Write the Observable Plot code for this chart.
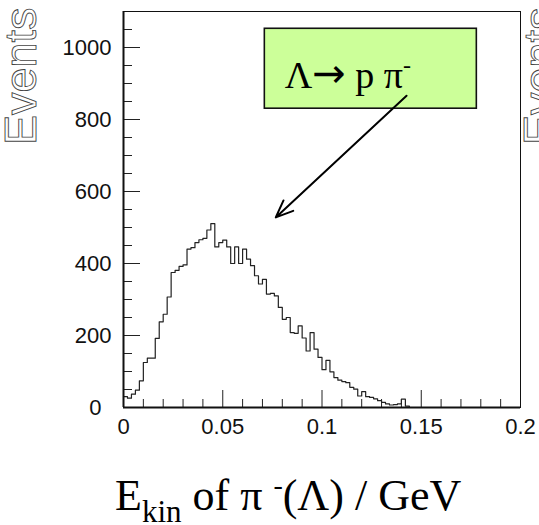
<!DOCTYPE html>
<html><head><meta charset="utf-8">
<script src="https://cdn.jsdelivr.net/npm/d3@7"></script>
<script src="https://cdn.jsdelivr.net/npm/@observablehq/plot@0.6"></script>
<style>
html,body{margin:0;padding:0;background:#fff;}
svg{display:block;}
</style>
</head><body>
<div id="chart"></div>
<script>
// Histogram: bin width 0.002 GeV, counts
const binWidth = 0.002;
const counts = [30,26,37,48,74,125,137,137,192,238,259,307,375,381,392,396,440,444,458,466,470,493,511,446,458,465,446,400,446,400,440,412,394,366,343,356,315,317,310,278,245,250,208,206,227,193,157,208,162,139,105,131,99,83,76,72,69,56,51,32,44,30,28,24,19,14,10,7,8,10,23,4];
const xMajorTicks = [0, 0.05, 0.1, 0.15, 0.2];
const xTickLabels = ["0", "0.05", "0.1", "0.15", "0.2"];
const xMinorTicks = [0.01,0.02,0.03,0.04,0.06,0.07,0.08,0.09,0.11,0.12,0.13,0.14,0.16,0.17,0.18,0.19];
const yMajorTicks = [0, 200, 400, 600, 800, 1000];
const yTickLabels = ["0", "200", "400", "600", "800", "1000"];
const yMinorTicks = [50,100,150,250,300,350,450,500,550,650,700,750,850,900,950,1050];
// annotation (data units)
const boxX = [0.0712, 0.178];
const boxY = [830, 1052];
const arrowFrom = [0.1426, 866];
const arrowTo = [0.0767, 528];
const labelPos = [0.0815, 885];

const xLabelMap = new Map(xMajorTicks.map((d, i) => [d, xTickLabels[i]]));
const yLabelMap = new Map(yMajorTicks.map((d, i) => [d, yTickLabels[i]]));

const steps = counts.map((c, i) => ({x: i * binWidth, y: c}));
steps.push({x: counts.length * binWidth, y: 0});
steps.push({x: 0.2, y: 0});

const tickFont = {fontSize: 22, letterSpacing: 2};

const plot = Plot.plot({
  width: 539, height: 525,
  marginLeft: 123, marginRight: 19, marginTop: 11, marginBottom: 118,
  x: {domain: [0, 0.2]},
  y: {domain: [0, 1100]},
  style: {fontFamily: "'Liberation Sans', Arial, sans-serif", background: "white", color: "#111", overflow: "hidden"},
  marks: [
    Plot.rect([{}], {x1: boxX[0], x2: boxX[1], y1: boxY[0], y2: boxY[1], fill: "#ccff99", stroke: "#111", strokeWidth: 1.6}),
    Plot.lineY(steps, {x: "x", y: "y", curve: "step-after", stroke: "#222", strokeWidth: 1.2}),
    Plot.arrow([{}], {x1: arrowFrom[0], y1: arrowFrom[1], x2: arrowTo[0], y2: arrowTo[1], stroke: "#000", strokeWidth: 2, headLength: 14, headAngle: 45}),
    Plot.axisX({ticks: xMinorTicks, tickSize: -8, fill: "none", label: null, stroke: "#222"}),
    Plot.axisX({ticks: xMajorTicks, tickSize: -17, fill: "none", label: null, stroke: "#222"}),
    Plot.axisX({ticks: xMajorTicks, tickSize: 0, tickPadding: 11, ...tickFont, label: null, tickFormat: d => xLabelMap.get(d)}),
    Plot.axisY({ticks: yMinorTicks, tickSize: -9, fill: "none", label: null, stroke: "#222"}),
    Plot.axisY({ticks: yMajorTicks, tickSize: -17, fill: "none", label: null, stroke: "#222"}),
    Plot.axisY({ticks: yMajorTicks.filter(d => d !== 0), tickSize: 0, tickPadding: 12, ...tickFont, label: null, tickFormat: d => yLabelMap.get(d)}),
    Plot.axisY({ticks: [0], tickSize: 0, tickPadding: 22, ...tickFont, label: null, tickFormat: d => yLabelMap.get(d)}),
    Plot.frame({stroke: "#111", strokeWidth: 1}),
    Plot.ruleX([0], {stroke: "#111", strokeWidth: 2}),
    Plot.ruleY([0], {stroke: "#111", strokeWidth: 2})
  ]
});
document.getElementById("chart").appendChild(plot);

const sx = plot.scale("x"), sy = plot.scale("y");
const svg = d3.select(plot);

// box label
const bt = svg.append("text")
  .attr("x", sx.apply(labelPos[0])).attr("y", sy.apply(labelPos[1]))
  .attr("text-anchor", "start")
  .attr("font-family", "'Liberation Serif', 'Times New Roman', serif")
  .attr("font-size", 38).attr("fill", "#000");
bt.append("tspan").text("Λ");
bt.append("tspan").attr("font-family", "'DejaVu Sans', sans-serif").attr("font-size", 40).attr("dy", -1).text("→");
bt.append("tspan").attr("dy", 1).text(" p π");
bt.append("tspan").attr("font-size", 24).attr("dy", -15).text("-");

// y-axis titles (hollow style), left and neighbouring panel
function events(x) {
  svg.append("text")
    .attr("transform", `translate(${x},145) rotate(-90)`)
    .attr("text-anchor", "start")
    .attr("font-family", "'Liberation Sans', Arial, sans-serif")
    .attr("font-size", 45)
    .attr("fill", "white").attr("stroke", "#444").attr("stroke-width", 0.9)
    .text("Events");
}
events(36);
events(555);

// x-axis title
const xt = svg.append("text")
  .attr("x", 115).attr("y", 510)
  .attr("text-anchor", "start")
  .attr("font-family", "'Liberation Serif', 'Times New Roman', serif")
  .attr("font-size", 44).attr("fill", "#000");
xt.append("tspan").text("E");
xt.append("tspan").attr("font-size", 31).attr("dy", 12).text("kin");
xt.append("tspan").attr("dy", -12).text(" of π ");
xt.append("tspan").attr("font-size", 28).attr("dy", -16).text("-");
xt.append("tspan").attr("dy", 16).text("(Λ) / GeV");
</script>
</body></html>
